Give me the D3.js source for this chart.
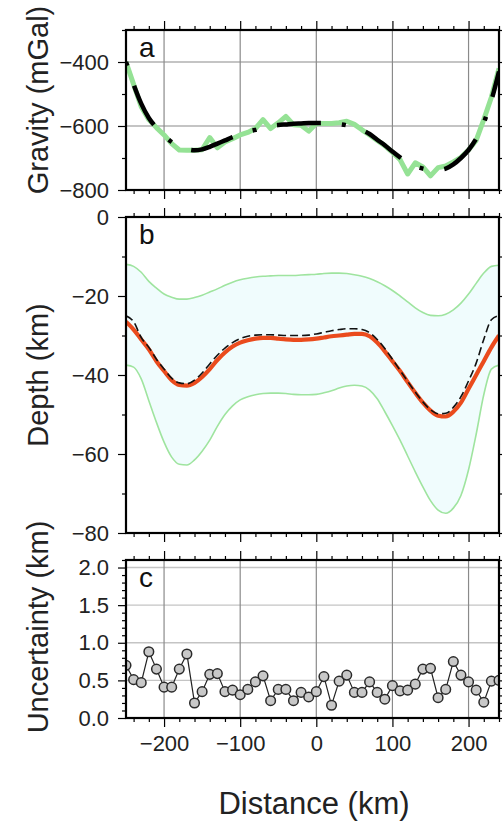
<!DOCTYPE html>
<html><head><meta charset="utf-8">
<script src="https://cdn.jsdelivr.net/npm/d3@7"></script>
<style>
body{margin:0;background:#fff}
svg{display:block}
text{font-family:"Liberation Sans",Arial,Helvetica,sans-serif}
</style>
</head><body>
<svg id="chart" width="502" height="821"></svg>
<script>
// ---------------- data ----------------
const distance = [-250,-240,-230,-220,-210,-200,-190,-180,-170,-160,-150,-140,-130,-120,-110,-100,-90,-80,-70,-60,-50,-40,-30,-20,-10,0,10,20,30,40,50,60,70,80,90,100,110,120,130,140,150,160,170,180,190,200,210,220,230,240];

const gravityObserved = [-400,-470,-540,-580,-605,-628,-655,-675,-676,-676,-674,-636,-668,-650,-640,-628,-620,-608,-580,-608,-590,-570,-596,-598,-616,-592,-592,-592,-590,-585,-595,-612,-628,-645,-662,-682,-705,-750,-715,-728,-756,-730,-725,-712,-698,-675,-645,-580,-510,-420];
const gravityCalculated = [-400,-470,-530,-575,-605,-630,-650,-663,-672,-676,-673,-665,-655,-645,-635,-626,-618,-612,-605,-600,-597,-595,-593,-592,-591,-591,-591,-592,-594,-598,-605,-613,-625,-643,-660,-680,-698,-713,-725,-733,-737,-737,-733,-720,-700,-675,-640,-590,-520,-430];

const depthUpper = [-12,-12.5,-14,-16.3,-18,-19.5,-20.3,-20.8,-20.8,-20.4,-19.8,-19,-18.2,-17.3,-16.5,-15.9,-15.5,-15.2,-15,-14.9,-14.8,-14.8,-14.8,-14.7,-14.6,-14.5,-14.3,-14.2,-14.2,-14.3,-14.6,-15,-15.6,-16.4,-17.4,-18.6,-20,-21.5,-23,-24.2,-24.9,-25,-24.6,-23.5,-21.8,-19.5,-16.8,-14.2,-12.5,-12.2];
const depthLower = [-37.5,-38,-41,-46.5,-52,-57,-60.8,-62.6,-62.8,-61.5,-59.3,-56.5,-53,-50,-47.8,-46.3,-45.5,-45,-44.7,-44.6,-44.6,-44.7,-44.9,-45,-45,-44.9,-44.5,-44,-43.3,-42.8,-42.6,-42.8,-43.8,-46,-49.3,-52.8,-56.5,-60.5,-64.5,-68.3,-71.8,-74.2,-75,-73.7,-70.5,-64,-55,-45,-38.5,-37.5];
const depthInverted = [-26.5,-28.5,-31,-33.5,-36.5,-39,-41.3,-42.5,-42.7,-42,-40.5,-38.5,-36.2,-34.3,-32.8,-31.8,-31.2,-30.8,-30.6,-30.6,-30.8,-31,-31.1,-31.1,-31,-30.8,-30.5,-30.2,-30,-29.8,-29.6,-29.6,-30.2,-31.8,-34,-36.5,-39,-41.8,-44.5,-47,-49,-50.3,-50.5,-49.3,-47,-43.5,-40,-36.5,-33,-30];
const depthTrue = [-25,-26.5,-30.5,-33,-36,-38.5,-40.8,-42,-42.2,-41.3,-39.5,-37.2,-35,-33.2,-31.8,-30.8,-30.2,-29.9,-29.8,-29.8,-29.9,-30,-30,-30,-29.9,-29.6,-29.2,-28.8,-28.5,-28.3,-28.3,-28.5,-29.3,-31,-33.3,-36,-38.8,-41.6,-44.3,-46.8,-48.8,-49.8,-49.7,-48.2,-45.5,-41.5,-37,-31,-26,-25];

const uncertainty = [0.70,0.51,0.47,0.88,0.65,0.41,0.41,0.65,0.85,0.20,0.35,0.58,0.59,0.35,0.37,0.31,0.38,0.48,0.56,0.23,0.38,0.38,0.23,0.34,0.28,0.35,0.55,0.17,0.49,0.57,0.34,0.34,0.48,0.34,0.25,0.43,0.36,0.37,0.45,0.65,0.66,0.27,0.38,0.75,0.57,0.48,0.37,0.21,0.49,0.50];

const xMajorTicks = [-200,-100,0,100,200];
const xMinorTicks = [-240,-220,-180,-160,-140,-120,-80,-60,-40,-20,20,40,60,80,120,140,160,180,220,240];
const gravityTicks = [-800,-600,-400];
const gravityMinor = [-700,-500,-300];
const depthTicks = [-80,-60,-40,-20,0];
const depthMinor = [-70,-50,-30,-10];
const uncTicks = [0,0.5,1.0,1.5,2.0];
const uncMinor = [0.1,0.2,0.3,0.4,0.6,0.7,0.8,0.9,1.1,1.2,1.3,1.4,1.6,1.7,1.8,1.9,2.1];

// ---------------- layout ----------------
const svg = d3.select("#chart");
const X0 = 126, X1 = 499;
const x = d3.scaleLinear().domain([-250, 240]).range([X0, X1]);
const panels = {
  a: {y: d3.scaleLinear().domain([-800, -300]).range([190, 30])},
  b: {y: d3.scaleLinear().domain([-80, 0]).range([533, 217])},
  c: {y: d3.scaleLinear().domain([0, 2.1]).range([718, 560])}
};
const FONT_TICK = 22, FONT_TITLE = 29, FONT_XTITLE = 31, FONT_LETTER = 28;
const fmtNeg = d3.format("d");

function clip(id, y) {
  svg.append("clipPath").attr("id", id).append("rect")
    .attr("x", X0).attr("y", y.range()[1]).attr("width", X1 - X0).attr("height", y.range()[0] - y.range()[1]);
}

function axes(y, majorY, minorY, labelFmt, showXLabels) {
  const top = y.range()[1], bot = y.range()[0];
  const style = g => {
    g.select(".domain").remove();
    g.selectAll("line").attr("stroke", "#000").attr("stroke-width", 1.2);
    g.selectAll("text").attr("font-size", FONT_TICK).attr("fill", "#222");
  };
  svg.append("g").attr("transform", `translate(${X0},0)`)
    .call(d3.axisLeft(y).tickValues(majorY).tickSize(8).tickPadding(9).tickFormat(labelFmt)).call(style);
  svg.append("g").attr("transform", `translate(${X0},0)`)
    .call(d3.axisLeft(y).tickValues(minorY.filter(v => v >= y.domain()[0] && v <= y.domain()[1])).tickSize(4).tickFormat("")).call(style);
  svg.append("g").attr("transform", `translate(${X1},0)`)
    .call(d3.axisRight(y).tickValues(majorY).tickSize(8).tickFormat("")).call(style);
  svg.append("g").attr("transform", `translate(${X1},0)`)
    .call(d3.axisRight(y).tickValues(minorY.filter(v => v >= y.domain()[0] && v <= y.domain()[1])).tickSize(4).tickFormat("")).call(style);
  svg.append("g").attr("transform", `translate(0,${top})`)
    .call(d3.axisTop(x).tickValues(xMajorTicks).tickSize(9).tickFormat("")).call(style);
  svg.append("g").attr("transform", `translate(0,${top})`)
    .call(d3.axisTop(x).tickValues(xMinorTicks).tickSize(4).tickFormat("")).call(style);
  svg.append("g").attr("transform", `translate(0,${bot})`)
    .call(d3.axisBottom(x).tickValues(xMajorTicks).tickSize(9).tickPadding(8).tickFormat(showXLabels ? fmtNeg : "")).call(style);
  svg.append("g").attr("transform", `translate(0,${bot})`)
    .call(d3.axisBottom(x).tickValues(xMinorTicks).tickSize(4).tickFormat("")).call(style);
}

function frame(y) {
  svg.append("rect").attr("x", X0).attr("y", y.range()[1])
    .attr("width", X1 - X0).attr("height", y.range()[0] - y.range()[1])
    .attr("fill", "none").attr("stroke", "#000").attr("stroke-width", 2.2);
}

function letter(t, y) {
  svg.append("text").attr("x", 139).attr("y", y.range()[1] + 27)
    .attr("font-size", FONT_LETTER).attr("fill", "#111").text(t);
}

function yTitle(t, cy) {
  svg.append("text").attr("transform", `translate(48,${cy}) rotate(-90)`)
    .attr("text-anchor", "middle").attr("font-size", FONT_TITLE).attr("fill", "#222").text(t);
}

// ---------------- panel a ----------------
{
  const y = panels.a.y;
  clip("clipA", y);
  const g = svg.append("g");
  g.selectAll(".vg").data(xMajorTicks).join("line")
    .attr("x1", d => x(d)).attr("x2", d => x(d)).attr("y1", y.range()[1]).attr("y2", y.range()[0])
    .attr("stroke", "#8a8a8a").attr("stroke-width", 1.2);
  g.selectAll(".hg").data(gravityTicks).join("line")
    .attr("x1", X0).attr("x2", X1).attr("y1", d => y(d)).attr("y2", d => y(d))
    .attr("stroke", "#8a8a8a").attr("stroke-width", 1.2);
  const pts = distance.map((d, i) => ({d, o: gravityObserved[i], c: gravityCalculated[i]}));
  const dg = svg.append("g").attr("clip-path", "url(#clipA)");
  dg.append("path").datum(pts)
    .attr("d", d3.line().x(p => x(p.d)).y(p => y(p.o)))
    .attr("fill", "none").attr("stroke", "#95e295").attr("stroke-width", 5).attr("stroke-linejoin", "round");
  dg.append("path").datum(pts)
    .attr("d", d3.line().curve(d3.curveMonotoneX).x(p => x(p.d)).y(p => y(p.c)))
    .attr("fill", "none").attr("stroke", "#000").attr("stroke-width", 4.5)
    .attr("stroke-dasharray", "4,21,44,21");
  axes(y, gravityTicks, gravityMinor, fmtNeg, false);
  frame(y);
  letter("a", y);
  yTitle("Gravity (mGal)", 100);
}

// ---------------- panel b ----------------
{
  const y = panels.b.y;
  clip("clipB", y);
  const pts = distance.map((d, i) => ({d, u: depthUpper[i], l: depthLower[i], m: depthInverted[i], t: depthTrue[i]}));
  const dg = svg.append("g").attr("clip-path", "url(#clipB)");
  dg.append("path").datum(pts)
    .attr("d", d3.area().curve(d3.curveMonotoneX).x(p => x(p.d)).y0(p => y(p.l)).y1(p => y(p.u)))
    .attr("fill", "#f0fcfd");
  ["u", "l"].forEach(k => {
    dg.append("path").datum(pts)
      .attr("d", d3.line().curve(d3.curveMonotoneX).x(p => x(p.d)).y(p => y(p[k])))
      .attr("fill", "none").attr("stroke", "#9fe49f").attr("stroke-width", 1.6);
  });
  dg.append("path").datum(pts)
    .attr("d", d3.line().curve(d3.curveMonotoneX).x(p => x(p.d)).y(p => y(p.m)))
    .attr("fill", "none").attr("stroke", "#ea4b1d").attr("stroke-width", 4.2);
  dg.append("path").datum(pts)
    .attr("d", d3.line().curve(d3.curveMonotoneX).x(p => x(p.d)).y(p => y(p.t)))
    .attr("fill", "none").attr("stroke", "#111").attr("stroke-width", 1.6)
    .attr("stroke-dasharray", "8,4");
  axes(y, depthTicks, depthMinor, fmtNeg, false);
  frame(y);
  letter("b", y);
  yTitle("Depth (km)", 375);
}

// ---------------- panel c ----------------
{
  const y = panels.c.y;
  clip("clipC", y);
  const g = svg.append("g");
  g.selectAll(".hg").data(uncTicks.filter(v => v > 0)).join("line")
    .attr("x1", X0).attr("x2", X1).attr("y1", d => y(d)).attr("y2", d => y(d))
    .attr("stroke", "#c4c4c4").attr("stroke-width", 1.4);
  g.selectAll(".vg").data(xMajorTicks).join("line")
    .attr("x1", d => x(d)).attr("x2", d => x(d)).attr("y1", y.range()[1]).attr("y2", y.range()[0])
    .attr("stroke", "#8a8a8a").attr("stroke-width", 1.2);
  const pts = distance.map((d, i) => ({d, v: uncertainty[i]}));
  const dg = svg.append("g").attr("clip-path", "url(#clipC)");
  dg.append("path").datum(pts)
    .attr("d", d3.line().x(p => x(p.d)).y(p => y(p.v)))
    .attr("fill", "none").attr("stroke", "#222").attr("stroke-width", 1.2);
  dg.selectAll("circle").data(pts).join("circle")
    .attr("cx", p => x(p.d)).attr("cy", p => y(p.v)).attr("r", 4.8)
    .attr("fill", "#c8c8c8").attr("stroke", "#2a2a2a").attr("stroke-width", 1.5);
  axes(y, uncTicks, uncMinor, d3.format(".1f"), true);
  frame(y);
  letter("c", y);
  yTitle("Uncertainty (km)", 627);
}

svg.append("text").attr("x", 314).attr("y", 814).attr("text-anchor", "middle")
  .attr("font-size", FONT_XTITLE).attr("fill", "#222").text("Distance (km)");
</script>
</body></html>
